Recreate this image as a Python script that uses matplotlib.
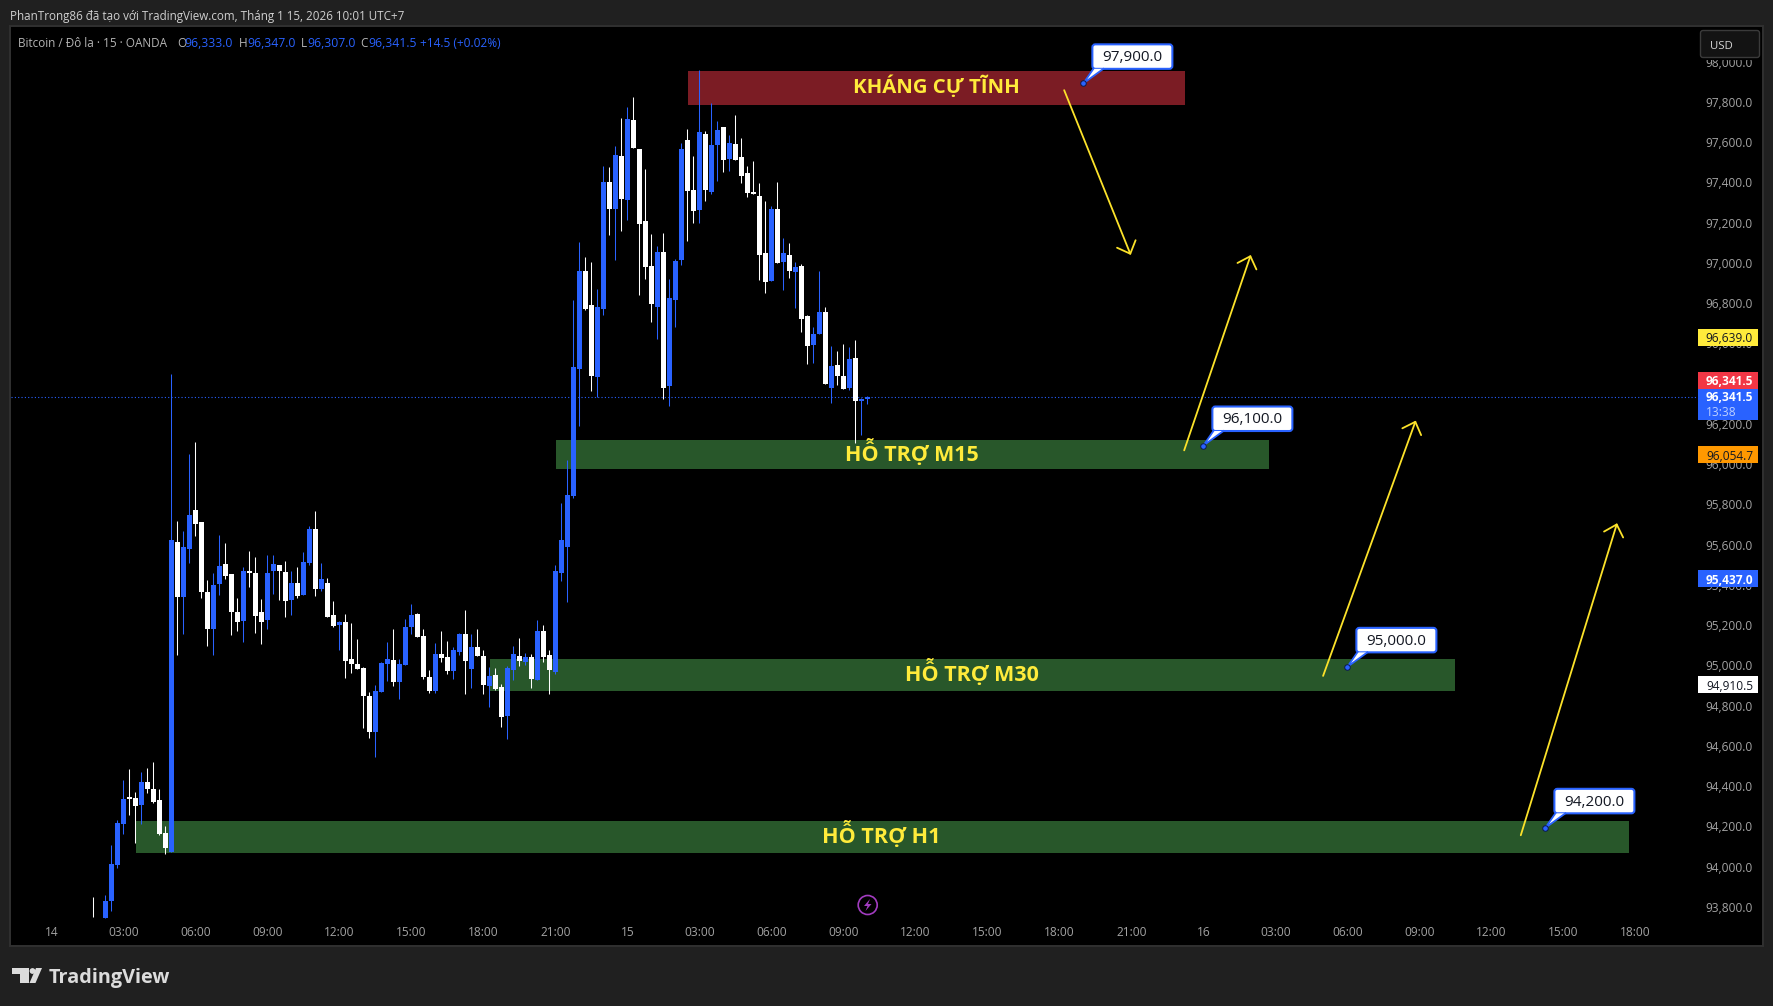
import numpy as np
import matplotlib
matplotlib.use('Agg')
import matplotlib.pyplot as plt
from matplotlib.patches import Rectangle, FancyBboxPatch, Polygon, Circle

nan = np.nan

# 15 minute bars, first one is 01:45 on the 14th
first_bar = 7
open_p = [nan,nan,93752,93836,94015,94219,94349,94349,94313,94427,
    94393,94338,94175,94079,95620,95346,95586,95779,95719,95371,
    95188,95412,95511,95462,95272,95227,95476,95467,95272,95233,
    95476,95506,95471,95332,95417,95357,95517,95685,95387,95417,
    95258,95208,95222,95039,95014,94995,94855,94675,94874,95014,
    95034,94925,95010,95198,95263,95154,94950,94880,95064,95049,
    94980,95074,95164,94990,95099,95054,94905,94960,94900,94756,
    94985,95054,95024,95049,94935,95179,95059,94975,95467,95596,
    95849,96480,96967,96798,96440,96778,97410,97275,97539,97320,
    97718,97574,97216,96992,96788,97062,96396,96823,97022,97618,
    97370,97270,97648,97360,97594,97683,97524,97599,97534,97454,
    97360,97340,97057,96918,97275,97012,97047,96962,96992,96744,
    96600,96654,96764,96386,96500,96445,96386,96535,96321,96333]
high_p = [93855,nan,93866,94115,94239,94438,94493,94377,94477,94498,
    94526,94393,94209,96456,95724,95675,96058,96117,95719,95432,
    95467,95655,95616,95462,95343,95495,95575,95545,95338,95556,
    95556,95506,95526,95476,95495,95570,95700,95774,95517,95442,
    95327,95227,95263,95219,95139,94998,94874,94910,95023,95123,
    95188,95039,95238,95313,95268,95188,94985,95119,95179,95129,
    95099,95169,95283,95164,95188,95084,95000,94995,94915,95005,
    95104,95144,95069,95064,95233,95208,95084,95507,95815,96028,
    96823,97111,97037,97012,96878,97489,97484,97589,97728,97782,
    97832,97574,97474,97151,97092,97156,96928,97027,97603,97673,
    97539,97966,97663,97802,97713,97683,97643,97743,97628,97489,
    97514,97405,97315,97290,97410,97131,97106,97012,97002,96749,
    96689,96967,96788,96595,96570,96605,96590,96624,96336,96347]
low_p = [93757,nan,93752,93786,94001,94170,94264,94125,94219,94374,
    94324,94164,94070,94079,95059,95164,95517,95650,95343,95103,
    95059,95357,95437,95158,95178,95123,95396,95169,95114,95188,
    95362,95332,95247,95258,95343,95357,95506,95352,95377,95247,
    95197,95084,94945,94970,94990,94697,94647,94551,94874,94929,
    94905,94841,95010,95164,95149,94940,94870,94870,95024,94965,
    94940,95059,94865,94895,95054,94865,94801,94885,94701,94642,
    94935,95005,95010,94895,94935,95024,94865,94965,95427,95323,
    95841,96197,96773,96371,96341,96749,97146,97022,97166,97221,
    97579,96848,96928,96714,96629,96331,96296,96689,96997,97116,
    97206,97206,97315,97350,97415,97459,97464,97519,97405,97335,
    97350,96923,96858,96918,97007,96873,96933,96783,96664,96505,
    96510,96654,96406,96311,96401,96381,96376,96112,96152,96307]
close_p = [nan,nan,93836,94020,94225,94344,94345,94308,94427,94393,
    94328,94170,94100,95630,95346,95595,95755,95710,95371,95188,
    95407,95501,95451,95272,95222,95476,95467,95252,95222,95467,
    95511,95476,95327,95417,95352,95520,95685,95387,95437,95247,
    95203,95222,95029,95014,94990,94855,94675,94880,95020,95039,
    94925,95014,95198,95258,95149,94950,94880,95064,95044,94980,
    95084,95164,95029,95099,95054,94910,94955,94890,94751,94995,
    95064,95029,95049,94940,95179,95049,94985,95477,95631,95854,
    96490,96967,96778,96445,96788,97410,97275,97544,97325,97723,
    97579,97201,96987,96803,97062,96386,96833,97017,97574,97365,
    97266,97658,97370,97594,97668,97519,97603,97519,97439,97355,
    97350,97047,96913,97275,97007,97057,96967,96987,96729,96595,
    96654,96764,96406,96495,96445,96381,96530,96321,96326,96341.5]

price_ticks = list(range(93800, 98001, 200))
time_ticks = list(range(0, 265, 12))
time_labels = ['14', '03:00', '06:00', '09:00', '12:00', '15:00', '18:00', '21:00',
               '15', '03:00', '06:00', '09:00', '12:00', '15:00', '18:00', '21:00',
               '16', '03:00', '06:00', '09:00', '12:00', '15:00', '18:00']

# zones: left bar, right bar, top price, bottom price
zone_names = ['KHÁNG CỰ TĨNH', 'HỖ TRỢ M15', 'HỖ TRỢ M30', 'HỖ TRỢ H1']
zone_left = [106.1, 84.1, 73.1, 14.1]
zone_right = [188.9, 202.95, 233.95, 262.95]
zone_top = [97962, 96128, 95039, 94234]
zone_bottom = [97793, 95984, 94880, 94075]
zone_label_x = [147.5, 143.5, 153.5, 138.3]
zone_label_y = [97850, 96023, 94930, 94125]
zone_label_size = [14.7, 15.5, 15.5, 15.6]

# arrows: start bar, start price, end bar, end price
arrow_x0 = [168.8, 188.8, 211.95, 244.9]
arrow_y0 = [97866, 96076, 94955, 94163]
arrow_x1 = [179.9, 199.9, 227.4, 260.95]
arrow_y1 = [97047, 97047, 96224, 95714]

callout_bars = [172, 192, 216, 249]
callout_prices = [97900, 96100, 95000, 94200]

last_price = 96341.5

BLUE = '#2962ff'
YELLOW = '#ffeb3b'
W, H = 1773, 1006
FONT = 'Open Sans'
plt.rcParams['font.family'] = [FONT, 'DejaVu Sans']

fig = plt.figure(figsize=(W / 100, H / 100), dpi=100, facecolor='#202020')

# main pane, pixel box 11..1762 x 27..945
ax = fig.add_axes([11 / W, 1 - 945 / H, (1762 - 11) / W, (945 - 27) / H], facecolor='black')
ax.set_xlim(-6.72, 285.1)
ax.set_ylim(93617.6, 98180)
for s in ax.spines.values():
    s.set_visible(False)

ax.yaxis.tick_right()
ax.set_yticks(price_ticks)
ax.set_yticklabels(['{:,.1f}'.format(v) for v in price_ticks])
for t in ax.get_yticklabels():
    t.set_ha('right')
    t.set_va('center')
ax.tick_params(axis='y', length=0, pad=-6.7, labelsize=8.6, labelcolor='#a3a3a3')
ax.set_xticks(time_ticks)
ax.set_xticklabels(time_labels)
ax.tick_params(axis='x', length=0, pad=-13.8, labelsize=8.6, labelcolor='#a3a3a3')

for i in range(len(zone_names)):
    fc = '#7b1c24' if i == 0 else '#28572a'
    ax.add_patch(Rectangle((zone_left[i], zone_bottom[i]), zone_right[i] - zone_left[i],
                           zone_top[i] - zone_bottom[i], fc=fc, ec='none', zorder=1))

ax.hlines(last_price, -6.72, 274.45, color=BLUE, lw=0.8, linestyle=(0, (1, 2)), zorder=2)

x = np.arange(len(open_p)) + first_bar
o, h, l, c = map(np.array, (open_p, high_p, low_p, close_p))
# the first bar only shows its wick above the bottom of the history
has_wick = ~np.isnan(h)
has_body = ~np.isnan(o)
wick_colors = [BLUE if b >= a else 'white' for a, b in zip(o[has_wick], c[has_wick])]
ax.vlines(x[has_wick], l[has_wick], h[has_wick], colors=wick_colors, lw=0.75, zorder=3)
colors = [BLUE if b >= a else 'white' for a, b in zip(o[has_body], c[has_body])]
bot = np.minimum(o[has_body], c[has_body])
ax.bar(x[has_body], np.maximum(np.abs(c[has_body] - o[has_body]), 8), bottom=bot, width=5 / 6,
       color=colors, lw=0, zorder=4)

for i in range(len(zone_names)):
    ax.text(zone_label_x[i], zone_label_y[i], zone_names[i], color=YELLOW, fontsize=zone_label_size[i],
            fontweight='bold', ha='center', va='baseline', zorder=5)

for i in range(len(arrow_x0)):
    ax.annotate('', xy=(arrow_x1[i], arrow_y1[i]), xytext=(arrow_x0[i], arrow_y0[i]),
                arrowprops=dict(arrowstyle='->,head_length=0.76,head_width=0.72', color='#fce22a',
                                lw=1.3, shrinkA=0, shrinkB=0, mutation_scale=10), zorder=6)

# price tags on the axis
px2price = 1 / 0.2012
def tag(price, label, fc, tc, up=0.0, weight='normal'):
    yc = price + up * px2price
    ax.add_patch(Rectangle((274.45, yc - 8.5 * px2price), 10, 17 * px2price, fc=fc, ec='none', zorder=8))
    ax.text(283.6, yc, label, color=tc, fontsize=8.6, ha='right', va='center_baseline',
            fontweight=weight, zorder=9)

tag(96639, '96,639.0', '#ffeb3b', '#131722')
tag(96054.7, '96,054.7', '#ff9800', '#131722')
tag(95437, '95,437.0', BLUE, 'white', weight='bold')
tag(94910.5, '94,910.5', 'white', '#131722')
tag(96341.5, '96,341.5', '#f23645', 'white', up=16.8, weight='bold')
ax.add_patch(Rectangle((274.45, 96341.5 - 23 * px2price), 10, 31 * px2price, fc=BLUE, ec='none', zorder=8))
ax.text(283.6, 96341.5 + 0.5 * px2price, '96,341.5', color='white', fontsize=8.6, ha='right',
        va='center_baseline', fontweight='bold', zorder=9)
ax.text(275.8, 96341.5 - 14 * px2price, '13:38', color='#bcd0ff', fontsize=8.6, ha='left',
        va='center_baseline', zorder=9)

# overlay in pixel coordinates for the chrome around the chart
ov = fig.add_axes([0, 0, 1, 1])
ov.set_xlim(0, W)
ov.set_ylim(H, 0)
ov.axis('off')
ov.patch.set_alpha(0)

ov.add_patch(Rectangle((10, 26), 1753, 920, fc='none', ec='#303030', lw=1.4))

def to_px(bar, price):
    px, py = ax.transData.transform((bar, price))
    return px, H - py

for bar, price in zip(callout_bars, callout_prices):
    ax_x, ax_y = to_px(bar, price)
    left, top = ax_x + 9, ax_y - 39
    right, bottom = left + 80, top + 24.5
    ov.add_patch(FancyBboxPatch((left + 3, top + 3), 74, 18.5, boxstyle='round,pad=3', fc='white',
                                ec=BLUE, lw=1.5))
    ov.add_patch(Polygon([(ax_x, ax_y), (left + 1, bottom), (left + 11, bottom)], fc='white', ec='none', zorder=3))
    ov.plot([left + 1, ax_x, left + 11], [bottom, ax_y, bottom], color=BLUE, lw=1.3, zorder=3)
    ov.text((left + right) / 2, (top + bottom) / 2 - 1, '{:,.1f}'.format(price), color='#131722',
            fontsize=11, ha='center', va='center_baseline', zorder=4)
    ov.plot([ax_x], [ax_y], 'o', ms=4, mfc=BLUE, mec='#0b1a4a', mew=0.7, zorder=5)

# USD button, it also cuts the top of the 98,000 label
ov.add_patch(Rectangle((1700, 57), 60, 2.5, fc='black', ec='none'))
ov.add_patch(FancyBboxPatch((1703, 33), 54, 22, boxstyle='round,pad=2.5', fc='#131313', ec='#3a3a3a', lw=1))
ov.text(1710, 45, 'USD', color='#d4d4d4', fontsize=8.2, ha='left', va='center_baseline')

# header texts
ov.text(10, 14.7, 'PhanTrong86 đã tạo với TradingView.com, Tháng 1 15, 2026 10:01 UTC+7',
        color='#cfcfcf', fontsize=8.35, ha='left', va='center_baseline')
ov.text(18, 42, 'Bitcoin / Đô la · 15 · OANDA', color='#b5b5b5', fontsize=8.5, ha='left', va='center_baseline')
legend_keys = ['O', 'H', 'L', 'C']
legend_vals = ['96,333.0', '96,347.0', '96,307.0', '96,341.5']
key_x = [176.8, 238.6, 300.7, 360]
val_x = [184.6, 247, 307, 368]
for k, v, kx, vx in zip(legend_keys, legend_vals, key_x, val_x):
    ov.text(kx, 42, k, color='#b5b5b5', fontsize=8.5, ha='left', va='center_baseline')
    ov.text(vx, 42, v, color=BLUE, fontsize=8.8, ha='left', va='center_baseline')
ov.text(420, 42, '+14.5 (+0.02%)', color=BLUE, fontsize=8.6, ha='left', va='center_baseline')

# logo
ov.add_patch(Polygon([(12, 968), (29, 968), (29, 983), (20, 983), (20, 974), (12, 974)], fc='#dcdcdc', ec='none'))
ov.add_patch(Circle((32.5, 971), 2.9, fc='#dcdcdc', ec='none'))
ov.add_patch(Polygon([(36, 968), (42, 968), (35.5, 983), (29.5, 983)], fc='#dcdcdc', ec='none'))
ov.text(49, 975.5, 'TradingView', color='#dcdcdc', fontsize=14.3, fontweight='bold', ha='left',
        va='center_baseline')

# lightning icon
ov.add_patch(Circle((867.7, 905), 9.5, fc='none', ec='#a23cc0', lw=1.2))
ov.add_patch(Polygon([(870, 899), (864, 906), (867.5, 906), (865.5, 911), (871.5, 904), (868, 904)],
                     fc='#a23cc0', ec='none'))

fig.savefig('out.png', dpi=100, facecolor=fig.get_facecolor())
